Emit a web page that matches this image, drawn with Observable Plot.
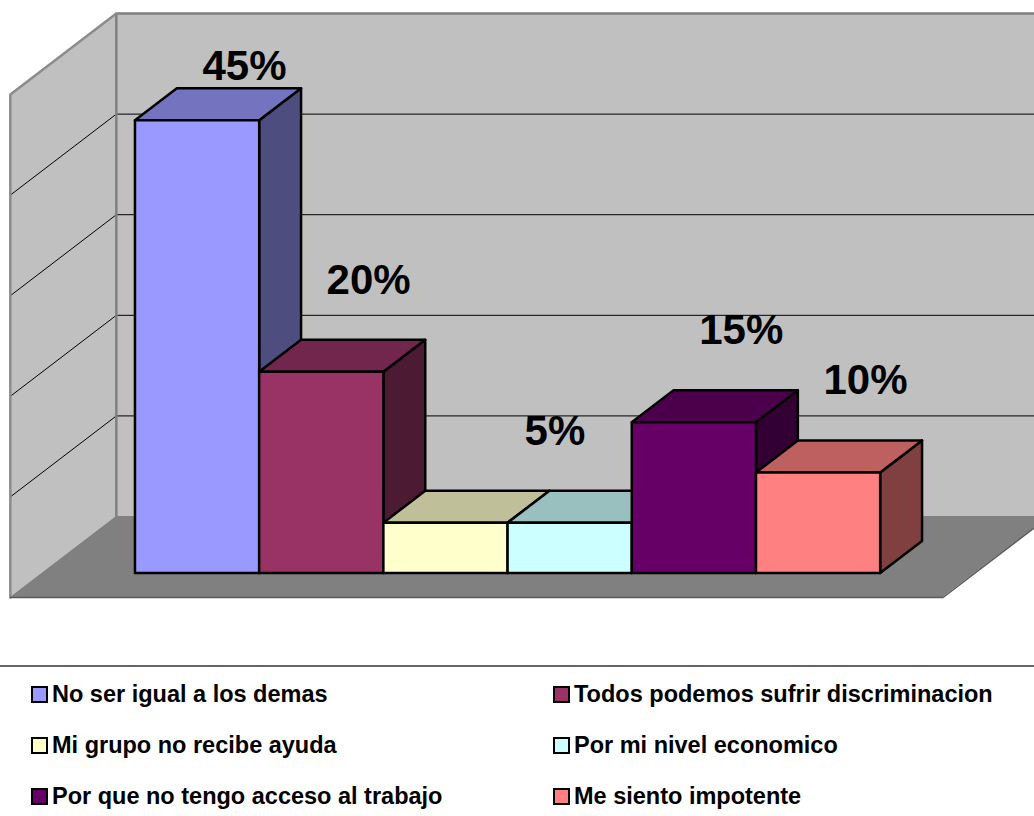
<!DOCTYPE html>
<html>
<head>
<meta charset="utf-8">
<script src="https://cdn.jsdelivr.net/npm/d3@7"></script>
<script src="https://cdn.jsdelivr.net/npm/@observablehq/plot@0.6"></script>
<style>
  html, body { margin: 0; padding: 0; background: #fff; }
  #chart svg { display: block; }
  .legend {
    margin-top: 15px;
    border-top: 2px solid #666;
    padding: 2px 0 0 31px;
    display: grid;
    grid-template-columns: 522px auto;
    grid-auto-rows: 51px;
    align-items: center;
    font-family: "Liberation Sans", Arial, sans-serif;
    font-weight: bold;
    font-size: 23.5px;
    color: #000;
  }
  .legend .item { display: flex; align-items: center; white-space: nowrap; }
  .legend .sw { width: 13px; height: 13px; border: 2px solid #000; margin-right: 4px; flex: none; }
</style>
</head>
<body>
<div id="chart"></div>
<script>
// ---- data ----
const categories = [
  "No ser igual a los demas",
  "Todos podemos sufrir discriminacion",
  "Mi grupo no recibe ayuda",
  "Por mi nivel economico",
  "Por que no tengo acceso al trabajo",
  "Me siento impotente"
];
const values = [45, 20, 5, 5, 15, 10];
const gridTicks = [10, 20, 30, 40];
const valueMax = 50;

// ---- styles ----
const frontColors = ["#9999FF", "#993366", "#FFFFCC", "#CCFFFF", "#660066", "#FF8080"];
const topColors   = ["#7373BF", "#73264D", "#BFBF99", "#99BFBF", "#4C004C", "#BF6060"];
const sideColors  = ["#4D4D80", "#4D1A33", "#808066", "#668080", "#330033", "#804040"];

// ---- oblique 3D geometry (in scale units) ----
const W = 1034, H = 650;
const PX_CAT = 124.2, PX_PCT = 10.06;     // pixels per category / per percent
const X0 = 103.6, Y0 = 597;               // screen origin of (c=0, v=0, z=0)
const KX = 0.8535, KY = 8.05;             // full-depth oblique offset
const Z_FRONT = 0.296, Z_BACK = 0.691;    // bar depth span
const C_LEFT = -0.755, C_RIGHT = categories.length + 0.755;
const LABEL_DX = 0.63, LABEL_DY = 10.2, LABEL_CEIL = 51.4;

const P = (c, v, z) => ({x: c + z * KX, y: v + z * KY});

const bars = categories.map((name, i) => ({name, i, v: values[i], a: i, b: i + 1}));

const marks = [];

// back wall
marks.push(Plot.rect([{x1: C_LEFT + KX, x2: C_RIGHT + KX, y1: KY, y2: valueMax + KY}],
  {x1: "x1", x2: "x2", y1: "y1", y2: "y2", fill: "#C0C0C0"}));
// left wall
marks.push(Plot.areaY([
    {x: C_LEFT, y1: 0, y2: valueMax},
    {x: C_LEFT + KX, y1: KY, y2: valueMax + KY}
  ], {x: "x", y1: "y1", y2: "y2", fill: "#C0C0C0"}));
// floor
marks.push(Plot.areaX([
    {y: 0, x1: C_LEFT, x2: C_RIGHT},
    {y: KY, x1: C_LEFT + KX, x2: C_RIGHT + KX}
  ], {y: "y", x1: "x1", x2: "x2", fill: "#808080"}));

// gridlines: back wall
marks.push(Plot.ruleY(gridTicks, {y: d => d + KY, x1: () => C_LEFT + KX, x2: () => C_RIGHT + KX, stroke: "#000", strokeWidth: 1}));
// gridlines: left wall
marks.push(Plot.link(gridTicks, {x1: () => C_LEFT, y1: d => d, x2: () => C_LEFT + KX, y2: d => d + KY, stroke: "#000", strokeWidth: 1}));

// wall / floor edges
const edge = (pts, stroke, sw) => Plot.line(pts, {x: d => d[0], y: d => d[1], stroke, strokeWidth: sw});
marks.push(edge([[C_LEFT + KX, KY], [C_LEFT + KX, valueMax + KY], [C_RIGHT + KX, valueMax + KY]], "#808080", 2.5));
marks.push(edge([[C_LEFT, 0], [C_LEFT, valueMax], [C_LEFT + KX, valueMax + KY]], "#8c8c8c", 2.5));
marks.push(edge([[C_LEFT, 0], [C_RIGHT, 0], [C_RIGHT + KX, KY]], "#5a5a5a", 1.5));

// bars, left to right: side, top, front
const barStroke = {stroke: "#000", strokeWidth: 2.5, strokeLinejoin: "round"};
for (const bar of bars) {
  const f0 = P(bar.b, 0, Z_FRONT), f1 = P(bar.b, 0, Z_BACK);
  marks.push(Plot.areaY([
      {x: f0.x, y1: f0.y, y2: f0.y + bar.v},
      {x: f1.x, y1: f1.y, y2: f1.y + bar.v}
    ], {x: "x", y1: "y1", y2: "y2", fill: sideColors[bar.i], ...barStroke}));
  const tl0 = P(bar.a, bar.v, Z_FRONT), tr0 = P(bar.b, bar.v, Z_FRONT);
  const tl1 = P(bar.a, bar.v, Z_BACK), tr1 = P(bar.b, bar.v, Z_BACK);
  marks.push(Plot.areaX([
      {y: tl0.y, x1: tl0.x, x2: tr0.x},
      {y: tl1.y, x1: tl1.x, x2: tr1.x}
    ], {y: "y", x1: "x1", x2: "x2", fill: topColors[bar.i], ...barStroke}));
  const b0 = P(bar.a, 0, Z_FRONT);
  marks.push(Plot.rect([bar], {
    x1: () => b0.x, x2: () => tr0.x, y1: () => b0.y, y2: () => tr0.y,
    fill: frontColors[bar.i], ...barStroke
  }));
}

// value labels (identical neighbouring values share one label)
const labelData = [];
for (const bar of bars) {
  const last = labelData[labelData.length - 1];
  if (last && last.v === bar.v) last.c2 = bar.b;
  else labelData.push({v: bar.v, c1: bar.a, c2: bar.b});
}
marks.push(Plot.text(labelData, {
  x: d => (d.c1 + d.c2) / 2 + LABEL_DX,
  y: d => Math.min(d.v + LABEL_DY, LABEL_CEIL),
  text: d => `${d.v}%`,
  lineAnchor: "bottom",
  textAnchor: "middle",
  fontSize: 42,
  fontWeight: "bold",
  fontFamily: "'Liberation Sans', Arial, sans-serif",
  fill: "#000"
}));

const chart = Plot.plot({
  width: W,
  height: H,
  margin: 0,
  x: {type: "linear", domain: [-X0 / PX_CAT, (W - X0) / PX_CAT], range: [0, W], axis: null},
  y: {type: "linear", domain: [(Y0 - H) / PX_PCT, Y0 / PX_PCT], range: [H, 0], axis: null},
  style: {background: "#fff", overflow: "hidden"},
  marks
});
document.getElementById("chart").appendChild(chart);

// legend
const legend = document.createElement("div");
legend.className = "legend";
categories.forEach((name, i) => {
  const item = document.createElement("div");
  item.className = "item";
  const sw = document.createElement("span");
  sw.className = "sw";
  sw.style.background = frontColors[i];
  const t = document.createElement("span");
  t.textContent = name;
  item.appendChild(sw);
  item.appendChild(t);
  legend.appendChild(item);
});
document.body.appendChild(legend);
</script>
</body>
</html>
